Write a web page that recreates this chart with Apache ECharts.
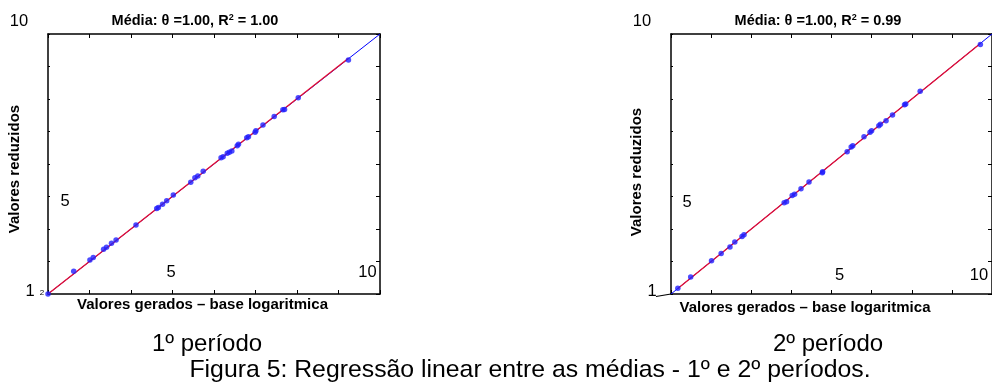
<!DOCTYPE html>
<html><head><meta charset="utf-8">
<script src="https://cdn.jsdelivr.net/npm/echarts@6/dist/echarts.min.js"></script>
<style>html,body{margin:0;padding:0;background:#fff}#c{width:992px;height:385px}</style>
</head><body><div id="c"></div>
<script>
// 1º período: valores gerados (x) e valores reduzidos (y)
const gen1 = [0, 0.62, 1.01, 1.09, 1.34, 1.41, 1.53, 1.64, 2.12, 2.62, 2.66, 2.76, 2.86, 3.02, 3.44, 3.54, 3.61, 3.74, 4.17, 4.22, 4.32, 4.37, 4.43, 4.56, 4.59, 4.79, 4.83, 4.99, 5.01, 5.18, 5.45, 5.66, 5.70, 6.03, 7.24];
const red1 = [0, 0.70, 1.05, 1.12, 1.38, 1.44, 1.56, 1.66, 2.12, 2.63, 2.66, 2.76, 2.87, 3.05, 3.44, 3.58, 3.63, 3.78, 4.19, 4.22, 4.33, 4.36, 4.40, 4.56, 4.61, 4.81, 4.84, 4.98, 5.02, 5.20, 5.46, 5.67, 5.68, 6.04, 7.20];
// 2º período
const gen2 = [0.17, 0.49, 1.01, 1.25, 1.47, 1.59, 1.77, 1.82, 2.82, 2.88, 3.02, 3.08, 3.24, 3.44, 3.77, 3.78, 4.39, 4.49, 4.53, 4.81, 4.96, 5.00, 5.18, 5.22, 5.36, 5.52, 5.82, 5.85, 6.21, 7.71];
const red2 = [0.18, 0.52, 1.02, 1.25, 1.45, 1.60, 1.77, 1.82, 2.81, 2.84, 3.03, 3.07, 3.24, 3.45, 3.73, 3.76, 4.38, 4.52, 4.56, 4.84, 4.98, 5.02, 5.18, 5.22, 5.33, 5.51, 5.82, 5.85, 6.24, 7.68];
const titles = ['Média: θ =1.00, R{sup|2} = 1.00', 'Média: θ =1.00, R{sup|2} = 0.99'];
const yName = 'Valores reduzidos';
const xName = 'Valores gerados – base logaritmica';
const periods = ['1º período', '2º período'];
const caption = 'Figura 5: Regressão linear entre as médias - 1º e 2º períodos.';
const axisMin = 0, axisMax = 8, axisStep = 1;

const FONT = '"Liberation Sans", Arial, sans-serif';
function pairs(xs, ys) { return xs.map((x, i) => [x, ys[i]]); }
function fit(xs, ys) {
  let sxy = 0, sxx = 0;
  xs.forEach((x, i) => { sxy += x * ys[i]; sxx += x * x; });
  const t = sxy / sxx;
  const a = Math.min(...xs), b = Math.max(...xs);
  return [[a, t * a], [b, t * b]];
}
const grids = [
  { left: 48, top: 34, width: 332, height: 260 },
  { left: 671, top: 34, width: 331, height: 260 }
];
const axLine = { show: true, onZero: false, lineStyle: { color: '#000', width: 1.5 } };
function xa(g, pos) {
  return { type: 'value', gridIndex: g, position: pos, min: axisMin, max: axisMax, interval: axisStep,
    axisLine: axLine, axisTick: { show: true, inside: true, length: 4, lineStyle: { color: '#000' } },
    axisLabel: { show: false }, splitLine: { show: false } };
}
function ya(g, pos) {
  return { type: 'value', gridIndex: g, position: pos, min: axisMin, max: axisMax, interval: axisStep,
    axisLine: axLine, axisTick: { show: true, inside: true, length: pos === 'left' ? 2 : 4, lineStyle: { color: '#000' } },
    axisLabel: { show: false }, splitLine: { show: false } };
}
const data = [[gen1, red1], [gen2, red2]];
const series = [];
data.forEach((d, g) => {
  series.push({ type: 'line', xAxisIndex: g * 2, yAxisIndex: g * 2, data: [[axisMin, axisMin], [axisMax, axisMax]],
    showSymbol: false, lineStyle: { color: '#0000ff', width: 1 }, z: 1, silent: true });
  series.push({ type: 'line', xAxisIndex: g * 2, yAxisIndex: g * 2, data: fit(d[0], d[1]),
    showSymbol: false, lineStyle: { color: '#e8102e', width: 1.3 }, z: 2, silent: true });
  series.push({ type: 'scatter', xAxisIndex: g * 2, yAxisIndex: g * 2, data: pairs(d[0], d[1]),
    symbolSize: 5.5, itemStyle: { color: '#1f1fff' }, z: 3 });
});
function txt(x, y, text, size, opts) {
  return Object.assign({ type: 'text', x: x, y: y, z: 10,
    style: Object.assign({ text: text, font: (opts && opts.bold ? 'bold ' : '') + size + 'px ' + FONT,
      fill: '#000', align: 'center', verticalAlign: 'middle' }, (opts && opts.style) || {}) }, (opts && opts.el) || {});
}
const rich = { sup: { fontSize: 9, fontWeight: 'bold', fontFamily: FONT, verticalAlign: 'top', padding: [0, 0, 7, 0] } };
const graphic = [
  // titles
  { type: 'text', x: 195, y: 21, z: 10, style: { text: titles[0], font: 'bold 14.5px ' + FONT, fill: '#000', align: 'center', verticalAlign: 'middle', rich: rich } },
  { type: 'text', x: 818, y: 21, z: 10, style: { text: titles[1], font: 'bold 14.5px ' + FONT, fill: '#000', align: 'center', verticalAlign: 'middle', rich: rich } },
  // axis names
  txt(202.5, 305, xName, 15, { bold: true }),
  txt(805, 307.5, xName, 15, { bold: true }),
  txt(14.7, 169, yName, 15, { bold: true, el: { rotation: Math.PI / 2 } }),
  txt(637, 172, yName, 15, { bold: true, el: { rotation: Math.PI / 2 } }),
  // stray tick labels, left
  txt(19, 21, '10', 16.5), txt(65, 201.5, '5', 16.5), txt(30, 291, '1', 16.5), txt(42, 293, '2', 8),
  txt(171, 272.5, '5', 16.5), txt(367.5, 272.5, '10', 16.5),
  // stray tick labels, right
  txt(642, 21, '10', 16.5), txt(687, 202.5, '5', 16.5), txt(652, 291, '1', 16.5),
  txt(839.5, 275, '5', 16.5), txt(979, 275, '10', 16.5),
  { type: 'line', z: 10, shape: { x1: 656, y1: 296.5, x2: 671, y2: 294 }, style: { stroke: '#000', lineWidth: 1.2 } },
  // period labels and caption
  txt(207, 344, periods[0], 24), txt(828, 344, periods[1], 24),
  txt(530, 370, caption, 24.8)
];
const chart = echarts.init(document.getElementById('c'), null, { renderer: 'canvas' });
chart.setOption({
  animation: false,
  backgroundColor: '#fff',
  grid: grids,
  xAxis: [xa(0, 'bottom'), xa(0, 'top'), xa(1, 'bottom'), xa(1, 'top')],
  yAxis: [ya(0, 'left'), ya(0, 'right'), ya(1, 'left'), ya(1, 'right')],
  series: series,
  graphic: graphic
});
</script></body></html>
